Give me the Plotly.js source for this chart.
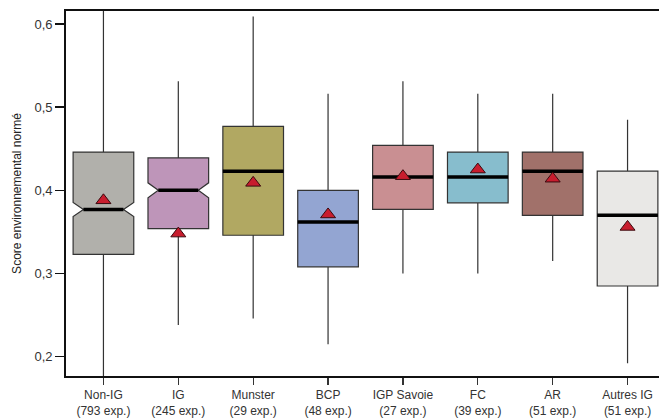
<!DOCTYPE html>
<html>
<head>
<meta charset="utf-8">
<script src="https://cdn.plot.ly/plotly-3.0.1.min.js"></script>
<style>html,body{margin:0;padding:0;background:#fff;overflow:hidden;}</style>
</head>
<body>
<div id="chart" style="width:659px;height:419px;"></div>
<script>
// ---- data ----
var groups   = ["Non-IG", "IG", "Munster", "BCP", "IGP Savoie", "FC", "AR", "Autres IG"];
var counts   = [793, 245, 29, 48, 27, 39, 51, 51];
var q1       = [0.323, 0.354, 0.346, 0.308, 0.377, 0.385, 0.370, 0.285];
var medians  = [0.377, 0.400, 0.423, 0.362, 0.416, 0.416, 0.423, 0.370];
var q3       = [0.446, 0.439, 0.477, 0.400, 0.454, 0.446, 0.446, 0.423];
var lowerW   = [0.150, 0.238, 0.246, 0.215, 0.300, 0.300, 0.315, 0.192];
var upperW   = [0.650, 0.531, 0.609, 0.516, 0.531, 0.516, 0.516, 0.485];
var means    = [0.388, 0.348, 0.409, 0.371, 0.417, 0.425, 0.414, 0.356];
var notched  = [true, true, false, false, false, false, false, false];
var notchHalf= [0.0084, 0.0090, 0, 0, 0, 0, 0, 0];
var fills    = ["#b1b0ab", "#be95b9", "#b1a862", "#93a5d2", "#c98f92", "#87bdcd", "#a1716a", "#e9e8e6"];
var yTicks   = [0.2, 0.3, 0.4, 0.5, 0.6];

var labels = groups.map(function(g, i){ return g + "<br>(" + counts[i] + " exp.)"; });

var BOXW = 0.81;
var NOTCHW = 0.17;
var traces = [];
groups.forEach(function(g, i){
  var t = {
    type: "box",
    x: [labels[i]],
    q1: [q1[i]], median: [medians[i]], q3: [q3[i]],
    lowerfence: [lowerW[i]], upperfence: [upperW[i]],
    fillcolor: fills[i],
    line: {color: "#333333", width: 1.2},
    whiskerwidth: 0,
    width: BOXW,
    boxpoints: false,
    showlegend: false,
    hoverinfo: "skip"
  };
  if (notched[i]) {
    t.notched = true;
    t.notchspan = [notchHalf[i]];
    t.notchwidth = NOTCHW;
  }
  traces.push(t);
});
// thick median bars
groups.forEach(function(g, i){
  traces.push({
    type: "box",
    x: [labels[i]],
    q1: [medians[i]], median: [medians[i]], q3: [medians[i]],
    lowerfence: [medians[i]], upperfence: [medians[i]],
    fillcolor: "rgba(0,0,0,0)",
    line: {color: "#000000", width: 3.5},
    whiskerwidth: 0,
    width: notched[i] ? BOXW * (1 - 2 * NOTCHW) : BOXW,
    boxpoints: false,
    showlegend: false,
    hoverinfo: "skip"
  });
});
// means
traces.push({
  type: "scatter",
  mode: "markers",
  x: labels,
  y: means,
  marker: {symbol: "triangle-up", size: 13, color: "#c81d2e", line: {color: "#3a0a0e", width: 1}},
  showlegend: false,
  hoverinfo: "skip"
});

var layout = {
  width: 659, height: 419,
  margin: {l: 66, r: 0, t: 11, b: 43, pad: 0},
  paper_bgcolor: "#ffffff",
  plot_bgcolor: "#ffffff",
  separators: ", ",
  font: {family: "Liberation Sans, Arial, sans-serif", color: "#222222"},
  boxmode: "overlay",
  showlegend: false,
  xaxis: {
    type: "category",
    range: [-0.5, 7.42],
    showline: true, mirror: true, linecolor: "#111111", linewidth: 1.8,
    ticks: "outside", ticklen: 7, tickwidth: 1.2, tickcolor: "#333333",
    showgrid: false, zeroline: false,
    tickfont: {size: 12, color: "#333333"}
  },
  yaxis: {
    range: [0.1768, 0.6156],
    tickvals: yTicks,
    tickformat: ".1f",
    showline: true, linecolor: "#111111", linewidth: 1.8,
    ticks: "outside", ticklen: 9, tickwidth: 1.5, tickcolor: "#111111",
    showgrid: false, zeroline: false,
    tickfont: {size: 13, color: "#333333"},
    title: {text: "Score environnemental normé", font: {size: 12, color: "#222222"}, standoff: 10}
  }
};

Plotly.newPlot("chart", traces, layout, {displayModeBar: false, staticPlot: true});
</script>
</body>
</html>
